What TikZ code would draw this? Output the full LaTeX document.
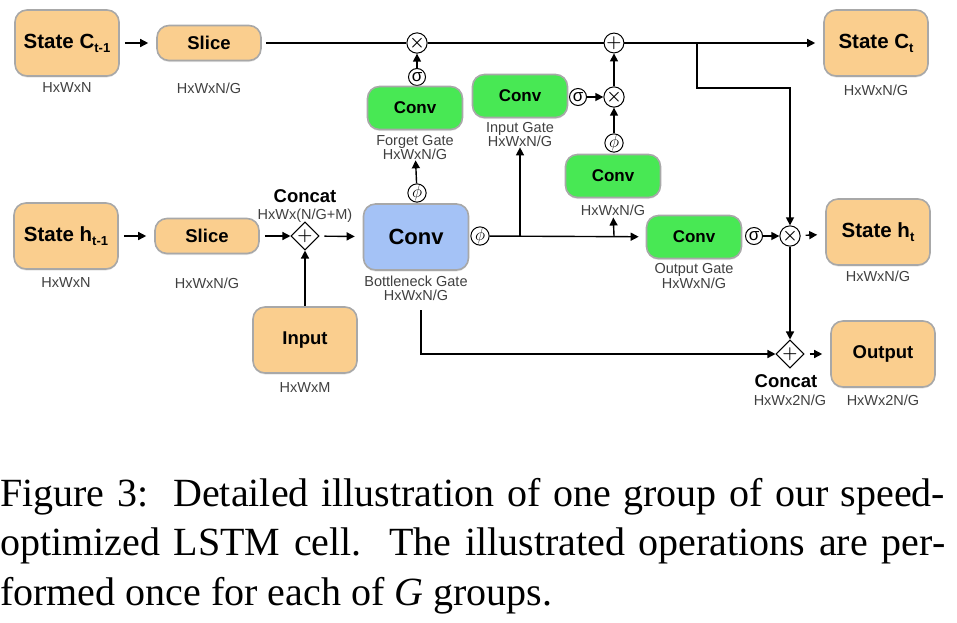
\documentclass[tikz,border=0pt]{standalone}
\usepackage{amsmath}
\usepackage{fontspec}
\setmainfont{Liberation Serif}
\setsansfont{Liberation Sans}
\usetikzlibrary{positioning,arrows.meta,shapes.geometric,shadows}
\definecolor{boxorange}{RGB}{250,206,142}
\definecolor{boxgreen}{RGB}{72,232,84}
\definecolor{boxblue}{RGB}{164,194,246}
\definecolor{boxrim}{RGB}{168,168,168}
\newcommand{\tsub}[1]{\raisebox{-0.35ex}{\fontsize{13}{14}\selectfont #1}}

\begin{document}
\begin{tikzpicture}[x=1pt, y=-1pt,
    block/.style={rectangle, draw=boxrim, line width=1.6pt, rounded corners=12pt, fill=boxorange,
        drop shadow={opacity=0.2, shadow xshift=0pt, shadow yshift=-1.5pt},
        font=\sffamily\bfseries\fontsize{20.5}{22}\selectfont, align=center},
    state/.style={block, minimum width=104pt, minimum height=66pt},
    slice/.style={block, minimum width=104pt, minimum height=35pt, font=\sffamily\bfseries\fontsize{18.5}{20}\selectfont},
    gate/.style={block, fill=boxgreen, minimum width=95pt, minimum height=43pt, font=\sffamily\bfseries\fontsize{17}{19}\selectfont},
    dim/.style={font=\sffamily\fontsize{14.5}{14}\selectfont, text=black!75, inner sep=0pt, align=center},
    catlbl/.style={font=\sffamily\bfseries\fontsize{18.5}{19}\selectfont, inner sep=0pt},
    op/.style={circle, draw, line width=1pt, minimum size=17pt, inner sep=0pt, fill=white, font=\sffamily\fontsize{17}{17}\selectfont},
    cat/.style={diamond, draw, line width=1pt, minimum size=24pt, inner sep=0pt, fill=white, font=\fontsize{16}{16}\selectfont},
    line/.style={draw, line width=1.4pt, -{Triangle[length=8pt,width=8pt]}},
    wire/.style={draw, line width=1.4pt},
    gap/.style={shorten <=5pt, shorten >=8pt}]
    \useasboundingbox (0,0) rectangle (957,622);

    % cell state row
    \node [state] (cprev) at (67,43) {State C\tsub{t-1}};
    \node [dim] (cprevdim) at (67,88) {HxWxN};
    \node [slice] (cslice) at (209,43) {Slice};
    \node [dim] (cslicedim) at (209,88) {HxWxN/G};
    \node [op] (fmul) at (417,43) {$\boldsymbol{\times}$};
    \node [op] (cadd) at (614,43) {$\boldsymbol{+}$};
    \node [state] (cnext) at (876,43) {State C\tsub{t}};
    \node [dim] (cnextdim) at (876,90) {HxWxN/G};

    % forget, input and candidate gates
    \node [op] (fsig) at (417,77) {σ};
    \node [gate] (fconv) at (415,108) {Conv};
    \node [dim] (flbl) at (415,148) {Forget Gate\\HxWxN/G};
    \node [op] (fphi) at (417,193) {$\phi$};
    \node [gate] (iconv) at (520,96) {Conv};
    \node [dim] (ilbl) at (520,135) {Input Gate\\HxWxN/G};
    \node [op] (isig) at (578,97) {σ};
    \node [op] (imul) at (614,97) {$\boldsymbol{\times}$};
    \node [op] (gphi) at (614,143) {$\phi$};
    \node [gate] (gconv) at (613,176) {Conv};
    \node [dim] (glbl) at (613,210) {HxWxN/G};

    % hidden state row
    \node [state] (hprev) at (66,236) {State h\tsub{t-1}};
    \node [dim] (hprevdim) at (66,283) {HxWxN};
    \node [slice] (hslice) at (207,236) {Slice};
    \node [dim] (hslicedim) at (207,283) {HxWxN/G};
    \node [cat] (incat) at (305,236) {$\boldsymbol{+}$};
    \node [catlbl] (incatlbl) at (305,196) {Concat};
    \node [dim] (incatdim) at (305,216) {HxWx(N/G+M)};
    \node [state, font=\sffamily\bfseries\fontsize{18.5}{20}\selectfont] (input) at (305,340) {Input};
    \node [dim] (inputdim) at (305,388) {HxWxM};
    \node [block, fill=boxblue, minimum width=105pt, minimum height=66pt, font=\sffamily\bfseries\fontsize{22}{24}\selectfont] (bconv) at (416,237) {Conv};
    \node [dim] (blbl) at (416,288) {Bottleneck Gate\\HxWxN/G};
    \node [op] (bphi) at (480,236) {$\phi$};
    \node [gate] (oconv) at (694,237) {Conv};
    \node [dim] (olbl) at (694,276) {Output Gate\\HxWxN/G};
    \node [op] (osig) at (754,236) {σ};
    \node [op] (omul) at (790,236) {$\boldsymbol{\times}$};
    \node [state] (hnext) at (878,232) {State h\tsub{t}};
    \node [dim] (hnextdim) at (878,276) {HxWxN/G};

    % output
    \node [cat] (outcat) at (790,354) {$\boldsymbol{+}$};
    \node [catlbl] (outcatlbl) at (786,381) {Concat};
    \node [dim] (outcatdim) at (790,400) {HxWx2N/G};
    \node [state, font=\sffamily\bfseries\fontsize{18.5}{20}\selectfont] (output) at (883,354) {Output};
    \node [dim] (outputdim) at (883,400) {HxWx2N/G};

    \coordinate (ibr) at (520,236);
    \coordinate (gbr) at (614,236);
    \coordinate (ctap) at (697,43);
    \coordinate (cbend) at (697,88);
    \coordinate (bdrop) at (421,310);

    \path [line, gap] (cprev) -- (cslice);
    \path [wire, shorten <=4pt] (cslice) -- (fmul);
    \path [wire] (fmul) -- (cadd);
    \path [line, shorten >=8pt] (cadd) -- (cnext);
    \path [line] (fsig) -- (fmul);
    \path [line] (fphi) -- (flbl);
    \path [line] (isig) -- (imul);
    \path [line] (gphi) -- (imul);
    \path [line] (imul) -- (cadd);
    \path [line, gap] (hprev) -- (hslice);
    \path [line, shorten <=5pt] (hslice) -- (incat);
    \path [line, gap] (incat) -- (bconv);
    \path [line] (input) -- (incat);
    \path [line, shorten >=7pt] (bphi) -- (oconv);
    \path [line] (ibr) -- (ilbl);
    \path [line, shorten >=2pt] (gbr) -- (glbl);
    \path [line] (osig) -- (omul);
    \path [line, gap] (omul) -- (hnext);
    \path [line] (ctap) -- (cbend) -| (omul);
    \path [line] (omul) -- (outcat);
    \path [line] (bdrop) |- (outcat);
    \path [line, gap] (outcat) -- (output);

    \node [anchor=north west, inner sep=0pt, text width=945pt, align=justify,
        font=\rmfamily\fontsize{40}{49.5}\selectfont] (caption) at (0,478)
        {Figure 3:\ \ Detailed illustration of one group of our speed-\linebreak
        optimized LSTM cell.\ \ The illustrated operations are per-\linebreak
        formed once for each of \textit{G} groups.};
\end{tikzpicture}
\end{document}
